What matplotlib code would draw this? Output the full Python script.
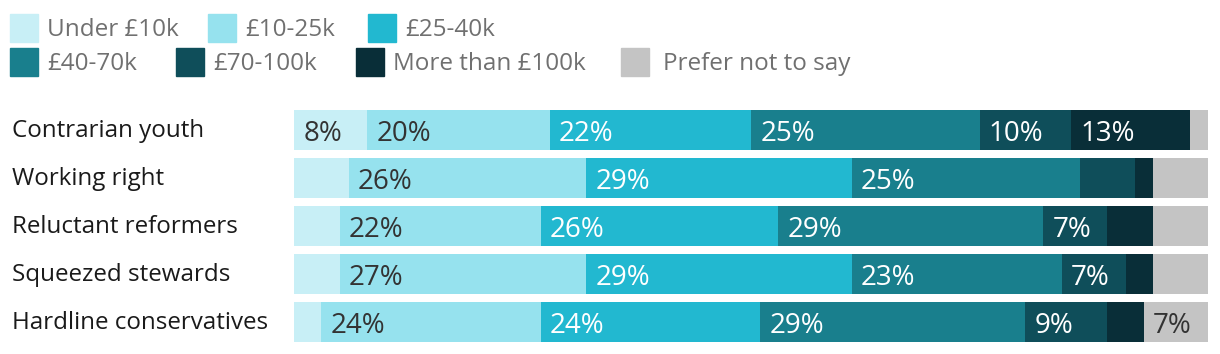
import matplotlib.pyplot as plt
from matplotlib.patches import Rectangle

# Income split by segment (percent of each group)
groups = ["Contrarian youth", "Working right", "Reluctant reformers",
          "Squeezed stewards", "Hardline conservatives"]
bands = ["Under £10k", "£10-25k", "£25-40k", "£40-70k", "£70-100k",
         "More than £100k", "Prefer not to say"]
under_10k = [8, 6, 5, 5, 3]
k10_25 = [20, 26, 22, 27, 24]
k25_40 = [22, 29, 26, 29, 24]
k40_70 = [25, 25, 29, 23, 29]
k70_100 = [10, 6, 7, 7, 9]
over_100k = [13, 2, 5, 3, 4]
prefer_not = [2, 6, 6, 6, 7]
series = [under_10k, k10_25, k25_40, k40_70, k70_100, over_100k, prefer_not]

colors = ["#c8eff6", "#96e2ee", "#22b8d0", "#197f8d", "#0f4e5a", "#092e38", "#c4c4c4"]
text_colors = ["#333333", "#333333", "white", "white", "white", "white", "#333333"]

FONT = "Open Sans"
W, H = 1220, 354
ROW = 48  # px per row

fig = plt.figure(figsize=(W / 100, H / 100), dpi=100)
ax = fig.add_axes([294 / W, (H - 346) / H, 914 / W, 240 / H])

ypos = list(range(len(groups)))
left = [0] * len(groups)
for vals, col, tcol in zip(series, colors, text_colors):
    ax.barh(ypos, vals, left=left, height=40 / ROW, color=col, linewidth=0)
    for y, v, l in zip(ypos, vals, left):
        if v >= 7:
            ax.text(l + 1.0, y + 11 / ROW, f"{v}%", color=tcol, fontsize=20,
                    family=FONT, va="baseline", ha="left")
    left = [a + b for a, b in zip(left, vals)]

ax.set_xlim(0, 100)
ax.set_ylim(4.5, -0.5)
ax.axis("off")

# group names on the left
for y, name in zip(ypos, groups):
    ax.text(-282 / 9.14, y + 7 / ROW, name, color="#1a1a1a", fontsize=17.4,
            family=FONT, va="baseline", ha="left", clip_on=False)

# legend drawn by hand, two rows
legend_pos = [(10, 14), (208, 14), (368, 14), (10, 48), (176, 48), (356, 48), (621, 48)]
for (px, py), lab, col in zip(legend_pos, bands, colors):
    fig.patches.append(Rectangle((px / W, 1 - (py + 28) / H), 28 / W, 28 / H,
                                 color=col, transform=fig.transFigure, figure=fig))
    gap = 37 if lab != "Prefer not to say" else 42
    fig.text((px + gap) / W, 1 - (py + 22) / H, lab, color="#707070", fontsize=17.5,
             family=FONT, va="baseline", ha="left")

fig.savefig("out.png", dpi=100)
